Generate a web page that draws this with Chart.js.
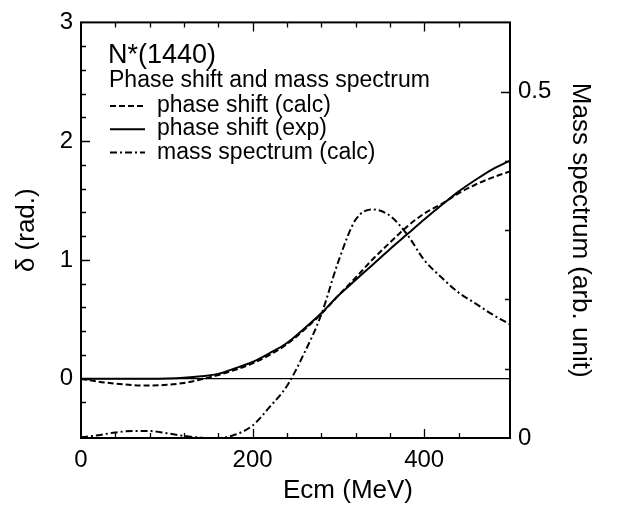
<!DOCTYPE html>
<html>
<head>
<meta charset="utf-8">
<script src="https://cdn.jsdelivr.net/npm/chart.js@4.4.0/dist/chart.umd.min.js"></script>
<style>
html, body { margin: 0; padding: 0; background: #fff; }
#wrap { width: 617px; height: 508px; }
</style>
</head>
<body>
<div id="wrap"><canvas id="chart" width="617" height="508"></canvas></div>
<script>
// values
const ecm = [0, 20, 40, 60, 80, 100, 120, 140, 160, 180, 200, 220, 240, 260, 280, 300, 320, 340, 360, 380, 400, 420, 440, 460, 480, 500];
const phaseCalc = [0, -0.025, -0.042, -0.054, -0.058, -0.052, -0.036, -0.006, 0.03, 0.075, 0.128, 0.2, 0.29, 0.41, 0.545, 0.70, 0.85, 1.005, 1.145, 1.28, 1.39, 1.47, 1.56, 1.635, 1.695, 1.745];
const phaseExp = [0, 0, 0, 0, 0, 0.002, 0.008, 0.02, 0.04, 0.088, 0.14, 0.215, 0.30, 0.42, 0.55, 0.70, 0.83, 0.96, 1.09, 1.215, 1.34, 1.46, 1.575, 1.675, 1.765, 1.835];
const massCalc = [0.001, 0.004, 0.008, 0.010, 0.010, 0.007, 0.003, 0.0005, 0, 0.005, 0.018, 0.045, 0.075, 0.122, 0.178, 0.255, 0.315, 0.33, 0.321, 0.294, 0.257, 0.232, 0.21, 0.194, 0.178, 0.164];

const xTickLabels = [0, 200, 400];
const deltaTickLabels = [0, 1, 2, 3];
const massTickLabels = [0, 0.5];

const seriesLabels = ['phase shift (calc)', 'phase shift (exp)', 'mass spectrum (calc)'];
const seriesDash = [[6, 3], [], [7, 3, 2, 3]];

const FONT = "'Liberation Sans', Arial, sans-serif";

function toPoints(vals) {
    return ecm.map((e, i) => ({x: e, y: vals[i]}));
}

function isLabelled(list, v) {
    return list.some(l => Math.abs(l - v) < 1e-6);
}

// box, inward ticks and the delta = 0 line
const framePlugin = {
    id: 'frame',
    beforeDatasetsDraw(chart) {
        const ctx = chart.ctx;
        const a = chart.chartArea;
        const y0 = chart.scales.y.getPixelForValue(0);
        ctx.save();
        ctx.strokeStyle = '#000';
        ctx.lineWidth = 1.3;
        ctx.beginPath();
        ctx.moveTo(a.left, y0);
        ctx.lineTo(a.right, y0);
        ctx.stroke();
        ctx.restore();
    },
    afterDraw(chart) {
        const ctx = chart.ctx;
        const a = chart.chartArea;
        const sx = chart.scales.x, sy = chart.scales.y, sy2 = chart.scales.y2;
        ctx.save();
        ctx.strokeStyle = '#000';
        ctx.lineWidth = 1.3;
        ctx.beginPath();
        sx.ticks.forEach(t => {
            if (t.value <= sx.min || t.value >= sx.max) return;
            const len = isLabelled(xTickLabels, t.value) ? 9 : 5;
            const px = Math.round(sx.getPixelForValue(t.value)) + 0.5;
            ctx.moveTo(px, a.bottom); ctx.lineTo(px, a.bottom - len);
            ctx.moveTo(px, a.top); ctx.lineTo(px, a.top + len);
        });
        sy.ticks.forEach(t => {
            if (t.value <= sy.min || t.value >= sy.max) return;
            const len = isLabelled(deltaTickLabels, t.value) ? 9 : 5;
            const py = Math.round(sy.getPixelForValue(t.value)) + 0.5;
            ctx.moveTo(a.left, py); ctx.lineTo(a.left + len, py);
        });
        sy2.ticks.forEach(t => {
            if (t.value <= sy2.min || t.value >= sy2.max) return;
            const len = isLabelled(massTickLabels, t.value) ? 9 : 5;
            const py = Math.round(sy2.getPixelForValue(t.value)) + 0.5;
            ctx.moveTo(a.right, py); ctx.lineTo(a.right - len, py);
        });
        ctx.stroke();
        ctx.lineWidth = 2;
        ctx.strokeRect(a.left, a.top, a.right - a.left, a.bottom - a.top);
        ctx.restore();
    }
};

// x title (sits right of centre in the original), title and legend inside the plot
const notePlugin = {
    id: 'note',
    afterDraw(chart) {
        const ctx = chart.ctx;
        ctx.save();
        ctx.fillStyle = '#000';
        ctx.textBaseline = 'alphabetic';
        ctx.textAlign = 'center';
        ctx.font = '26px ' + FONT;
        ctx.fillText('Ecm (MeV)', 348, 498);
        ctx.textAlign = 'left';
        ctx.font = '27px ' + FONT;
        ctx.fillText('N*(1440)', 108, 63);
        ctx.font = '23px ' + FONT;
        ctx.fillText('Phase shift and mass spectrum', 109, 87);
        chart.data.datasets.forEach((ds, i) => {
            const yLine = 106 + i * 23.3;
            ctx.strokeStyle = '#000';
            ctx.lineWidth = 2;
            ctx.setLineDash(ds.borderDash);
            ctx.beginPath();
            ctx.moveTo(110, yLine);
            ctx.lineTo(145, yLine);
            ctx.stroke();
            ctx.setLineDash([]);
            ctx.fillText(ds.label, 157, yLine + 6);
        });
        ctx.restore();
    }
};

const datasets = [phaseCalc, phaseExp, massCalc].map((vals, i) => ({
    label: seriesLabels[i],
    data: toPoints(vals),
    yAxisID: i === 2 ? 'y2' : 'y',
    borderColor: '#000',
    borderWidth: 2,
    borderDash: seriesDash[i],
    pointRadius: 0,
    fill: false,
    cubicInterpolationMode: 'monotone'
}));

const tickFont = {family: FONT, size: 24};
const titleFont = {family: FONT, size: 26};

new Chart(document.getElementById('chart'), {
    type: 'line',
    data: {datasets: datasets},
    options: {
        responsive: false,
        animation: false,
        devicePixelRatio: 1,
        layout: {padding: {top: 16, left: 0, right: 0, bottom: 0}},
        plugins: {legend: {display: false}, tooltip: {enabled: false}},
        scales: {
            x: {
                type: 'linear', position: 'bottom', min: 0, max: 500,
                grid: {display: false, drawTicks: false},
                border: {display: false},
                ticks: {
                    stepSize: 40, autoSkip: false, maxRotation: 0, padding: 8,
                    color: '#000', font: tickFont,
                    callback: v => isLabelled(xTickLabels, v) ? String(v) : ''
                },
                afterFit: s => { s.height = 70; }
            },
            y: {
                type: 'linear', position: 'left', min: -0.5, max: 3,
                grid: {display: false, drawTicks: false},
                border: {display: false},
                ticks: {
                    stepSize: 0.2, autoSkip: false, padding: 8,
                    color: '#000', font: tickFont,
                    callback: v => isLabelled(deltaTickLabels, v) ? String(Math.round(v)) : ''
                },
                title: {display: true, text: 'δ (rad.)', color: '#000', font: titleFont, padding: {top: 11}},
                afterFit: s => { s.width = 81; }
            },
            y2: {
                type: 'linear', position: 'right', min: 0, max: 0.6,
                grid: {display: false, drawTicks: false},
                border: {display: false},
                ticks: {
                    stepSize: 0.1, autoSkip: false, padding: 8,
                    color: '#000', font: tickFont,
                    callback: v => isLabelled(massTickLabels, v) ? String(Math.round(v * 10) / 10) : ''
                },
                title: {display: true, text: 'Mass spectrum (arb. unit)', color: '#000', font: titleFont, padding: {top: 21}},
                afterFit: s => { s.width = 107; }
            }
        }
    },
    plugins: [framePlugin, notePlugin]
});
</script>
</body>
</html>
